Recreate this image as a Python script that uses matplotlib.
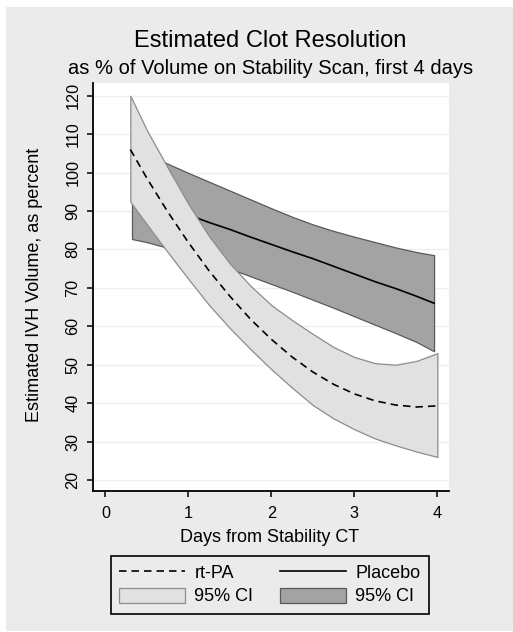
import matplotlib
matplotlib.use("Agg")
import matplotlib.pyplot as plt
from matplotlib.patches import Rectangle, Patch
from matplotlib.lines import Line2D

plt.rcParams['font.family'] = ['Liberation Sans', 'DejaVu Sans']

# rt-PA (estimate and 95% CI)
rtpa_days = [0.3, 0.5, 0.75, 1.0, 1.25, 1.5, 1.75, 2.0, 2.25, 2.5, 2.75, 3.0, 3.25, 3.5, 3.75, 4.0]
rtpa_est = [106.0, 98.5, 89.8, 81.8, 74.4, 67.8, 61.8, 56.6, 52.0, 48.1, 44.9, 42.4, 40.6, 39.5, 39.0, 39.3]
rtpa_hi = [120.0, 111.0, 101.3, 91.8, 83.4, 76.3, 70.5, 65.5, 61.6, 58.0, 54.6, 52.0, 50.4, 50.0, 51.0, 53.0]
rtpa_lo = [92.4, 86.5, 79.3, 72.3, 65.5, 59.5, 54.0, 48.8, 44.0, 39.5, 36.0, 33.2, 30.8, 29.0, 27.4, 26.0]

# Placebo (estimate and 95% CI)
plac_days = [0.32, 0.5, 0.75, 1.0, 1.25, 1.5, 1.75, 2.0, 2.25, 2.5, 2.75, 3.0, 3.25, 3.5, 3.75, 3.96]
plac_est = [94.2, 92.8, 90.9, 89.0, 87.0, 85.2, 83.2, 81.3, 79.4, 77.6, 75.6, 73.6, 71.6, 69.8, 67.8, 66.0]
plac_hi = [107.0, 104.8, 102.3, 99.9, 97.6, 95.3, 93.0, 90.7, 88.5, 86.5, 84.8, 83.3, 81.9, 80.5, 79.3, 78.5]
plac_lo = [82.7, 81.9, 80.4, 78.8, 76.9, 75.0, 73.0, 71.0, 69.0, 66.9, 64.8, 62.6, 60.4, 58.2, 55.9, 53.5]

xticks = [0, 1, 2, 3, 4]
yticks = [20, 30, 40, 50, 60, 70, 80, 90, 100, 110, 120]

bg = '#ebebeb'
light = '#e1e1e1'
dark = '#a3a3a3'

fig = plt.figure(figsize=(5.13, 6.32), dpi=100, facecolor='white')
fig.patches.append(Rectangle((6 / 513, 1 / 632), 1, 1 - 8 / 632, transform=fig.transFigure,
                             facecolor=bg, edgecolor='none', zorder=-10))

ax = fig.add_axes([93 / 513, 1 - 491 / 632, 356 / 513, 408 / 632])
ax.set_facecolor('white')

# placebo band and line first, rt-PA band on top
ax.fill_between(plac_days, plac_lo, plac_hi, facecolor=dark, edgecolor='#5a5a5a', linewidth=0.9, zorder=2)
ax.plot(plac_days, plac_est, color='black', linewidth=1.2, zorder=3)
ax.fill_between(rtpa_days, rtpa_lo, rtpa_hi, facecolor=light, edgecolor='#8c8c8c', linewidth=0.9, zorder=4)
ax.plot(rtpa_days, rtpa_est, color='black', linewidth=1.2, linestyle=(0, (4.5, 3)), zorder=5)

ax.set_xlim(-0.15, 4.14)
ax.set_ylim(17.14, 123.3)
ax.set_xticks(xticks)
ax.set_yticks(yticks)
ax.set_yticklabels([str(v) for v in yticks], rotation=90, va='center')
ax.tick_params(axis='both', length=4, width=1.1, labelsize=11.7, colors='black')
ax.tick_params(axis='y', pad=5)
ax.tick_params(axis='x', pad=7)
ax.yaxis.grid(True, color='#eeeeee', linewidth=0.9)
ax.set_axisbelow(True)
for s in ['top', 'right']:
    ax.spines[s].set_visible(False)
for s in ['left', 'bottom']:
    ax.spines[s].set_linewidth(1.3)

fig.text(270 / 513, 1 - 41 / 632, 'Estimated Clot Resolution', ha='center', va='center', fontsize=17)
fig.text(270.5 / 513, 1 - 68 / 632, 'as % of Volume on Stability Scan, first 4 days',
         ha='center', va='center', fontsize=14.5)
fig.text(270 / 513, 1 - 538 / 632, 'Days from Stability CT', ha='center', va='center', fontsize=13)
fig.text(35 / 513, 1 - 285 / 632, 'Estimated IVH Volume, as percent', ha='center', va='center',
         rotation=90, fontsize=13)

handles = [
    Line2D([], [], color='black', linewidth=1.2, linestyle=(0, (4.5, 3))),
    Patch(facecolor=light, edgecolor='#8c8c8c', linewidth=0.9),
    Line2D([], [], color='black', linewidth=1.2),
    Patch(facecolor=dark, edgecolor='#5a5a5a', linewidth=0.9),
]
labels = ['rt-PA', '95% CI', 'Placebo', '95% CI']
leg = fig.legend(handles, labels, ncol=2, loc='center', bbox_to_anchor=(270 / 513, 1 - 585 / 632),
                 fontsize=13, frameon=True, fancybox=False, framealpha=1, facecolor=bg, edgecolor='black',
                 handlelength=3.65, handleheight=0.9, handletextpad=0.5, columnspacing=1.5,
                 labelspacing=0.3, borderpad=0.45, borderaxespad=0)
leg.get_frame().set_linewidth(1.2)

fig.savefig('out.png', dpi=100, facecolor=fig.get_facecolor())
